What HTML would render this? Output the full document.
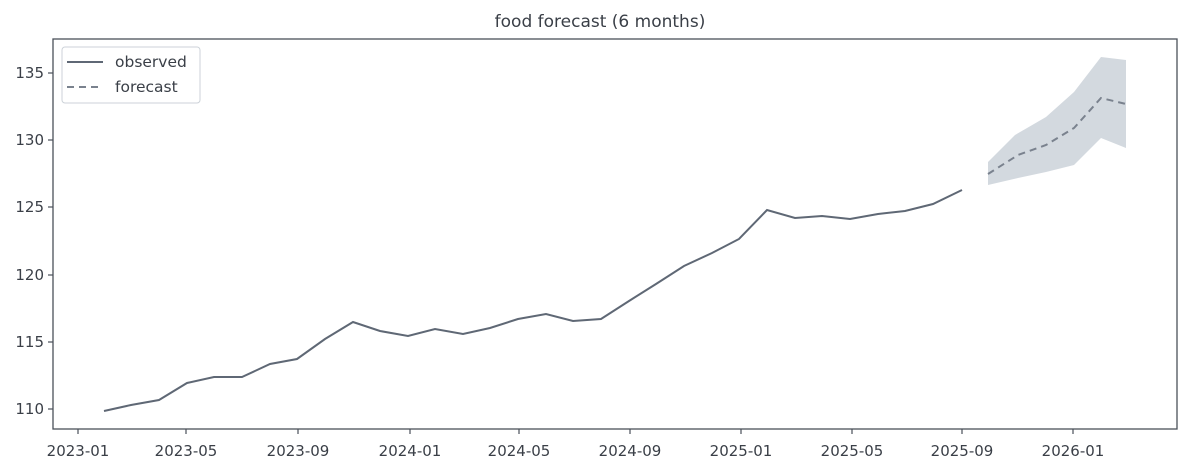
<!DOCTYPE html>
<html><head><meta charset="utf-8"><style>
body{margin:0;background:#fff;}
svg{display:block;font-family:"DejaVu Sans","Liberation Sans",sans-serif;}
</style></head><body>
<svg width="1193" height="472" viewBox="0 0 1193 472">
<rect width="1193" height="472" fill="#fff"/>
<text x="600" y="27" font-size="17" fill="#3a3f47" text-anchor="middle">food forecast (6 months)</text>
<polygon fill="#d3d9df" points="988,162 1015,135 1046,117 1074,92 1101,57 1126,60 1126,148 1101,138 1074,165 1046,172 1018,178 988,185"/>
<polyline fill="none" stroke="#5f6875" stroke-width="2" points="104,411 131,405 159,400 187,383 214,377 242,377 270,364 297,359 325,339 353,322 380,331 408,336 435,329 463,334 490,328 518,319 546,314 573,321 601,319 629,301 656,284 684,266 712,253 739,239 767,210 795,218 822,216 850,219 878,214 905,211 933,204 962,190"/>
<polyline fill="none" stroke="#7a828e" stroke-width="2" stroke-dasharray="7,5" points="988,174 1018,155 1046,145 1074,128 1101,98 1126,104"/>
<rect x="53" y="39" width="1124" height="390" fill="none" stroke="#4a5059" stroke-width="1.3"/>
<g stroke="#4a5059" stroke-width="1.2">
<line x1="48" y1="409" x2="53" y2="409"/><line x1="48" y1="342" x2="53" y2="342"/><line x1="48" y1="275" x2="53" y2="275"/><line x1="48" y1="207" x2="53" y2="207"/><line x1="48" y1="140" x2="53" y2="140"/><line x1="48" y1="73" x2="53" y2="73"/>
<line x1="78" y1="429" x2="78" y2="434"/><line x1="186" y1="429" x2="186" y2="434"/><line x1="298" y1="429" x2="298" y2="434"/><line x1="410" y1="429" x2="410" y2="434"/><line x1="519" y1="429" x2="519" y2="434"/><line x1="630" y1="429" x2="630" y2="434"/><line x1="741" y1="429" x2="741" y2="434"/><line x1="852" y1="429" x2="852" y2="434"/><line x1="962" y1="429" x2="962" y2="434"/><line x1="1073" y1="429" x2="1073" y2="434"/>
</g>
<g font-size="15" fill="#3a3f47" text-anchor="end">
<text x="44" y="414">110</text><text x="44" y="347">115</text><text x="44" y="280">120</text><text x="44" y="212">125</text><text x="44" y="145">130</text><text x="44" y="78">135</text>
</g>
<g font-size="15" fill="#3a3f47" text-anchor="middle">
<text x="78" y="456">2023-01</text><text x="186" y="456">2023-05</text><text x="298" y="456">2023-09</text><text x="410" y="456">2024-01</text><text x="519" y="456">2024-05</text><text x="630" y="456">2024-09</text><text x="741" y="456">2025-01</text><text x="852" y="456">2025-05</text><text x="962" y="456">2025-09</text><text x="1073" y="456">2026-01</text>
</g>
<rect x="62" y="47" width="138" height="56" rx="3" fill="#fff" stroke="#ccd2d8" stroke-width="1"/>
<line x1="67" y1="62" x2="103" y2="62" stroke="#5f6875" stroke-width="2"/>
<line x1="67" y1="87" x2="103" y2="87" stroke="#7a828e" stroke-width="2" stroke-dasharray="7,5"/>
<text x="115" y="67" font-size="15.5" fill="#3a3f47">observed</text>
<text x="115" y="92" font-size="15.5" fill="#3a3f47">forecast</text>
</svg>
</body></html>
